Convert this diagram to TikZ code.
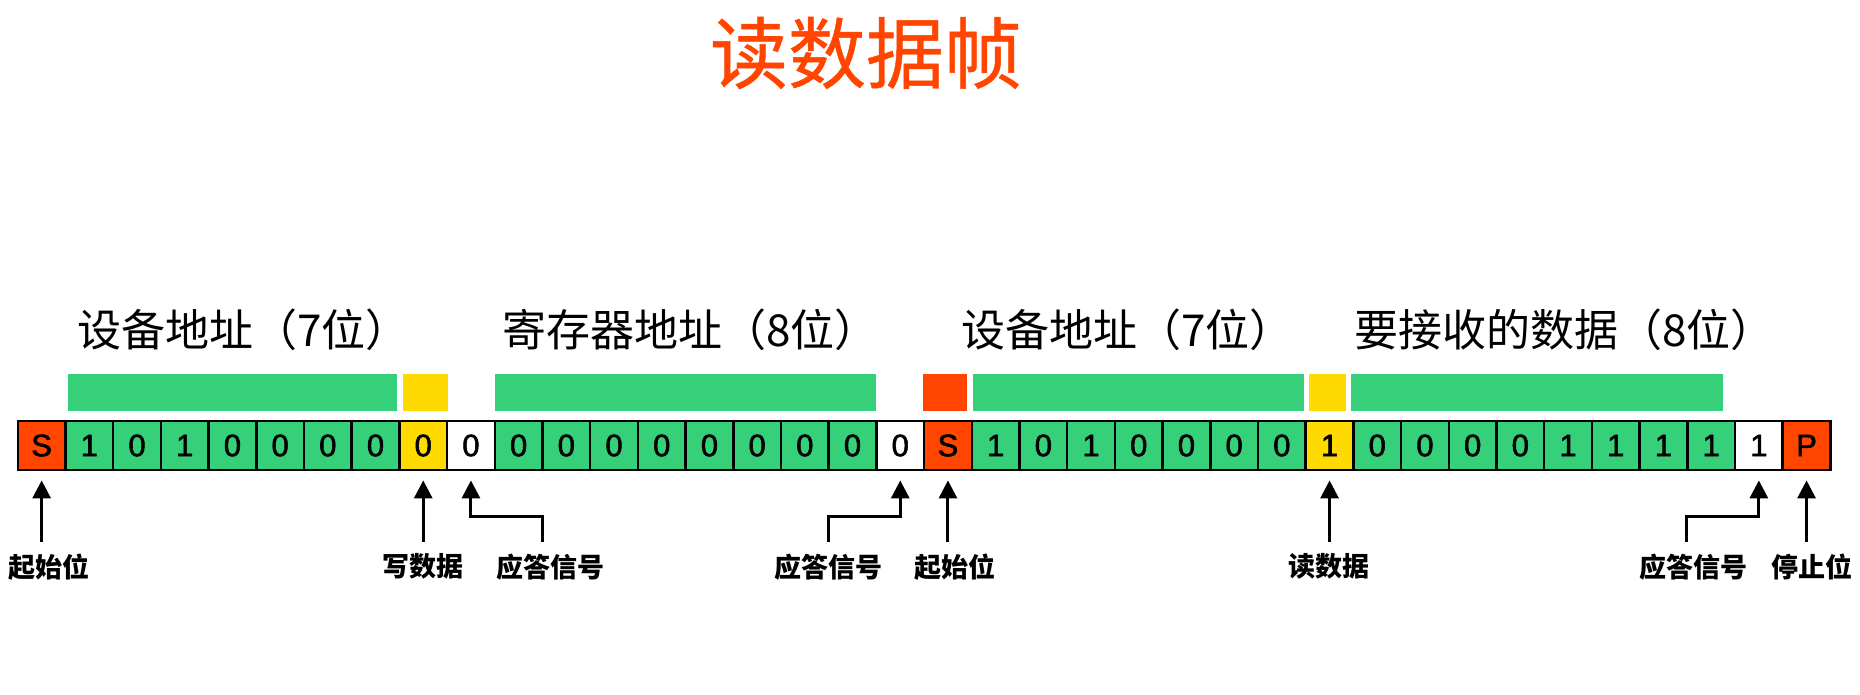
\documentclass[tikz,border=0pt]{standalone}
\usepackage{fontspec}
\setmainfont{Liberation Sans}
\newfontfamily\cjk{Noto Sans CJK SC}
\newfontfamily\cjkm[FakeBold=0.6]{Noto Sans CJK SC}
\newfontfamily\digfont[FakeBold=1.8]{Liberation Sans}
\usetikzlibrary{arrows.meta}
\definecolor{grn}{HTML}{36CF7A}
\definecolor{ylw}{HTML}{FFDA00}
\definecolor{orng}{HTML}{FF4500}
\definecolor{wht}{HTML}{FFFFFF}
\tikzset{
  cell/.style={draw=black,line width=2.5pt,minimum width=47.7pt,minimum height=49.3pt,inner sep=0pt,
    font=\digfont\fontsize{31}{32}\selectfont},
  toplbl/.style={anchor=west,inner sep=0pt,font=\cjk\fontsize{44}{46}\selectfont},
  botlbl/.style={inner sep=0pt,font=\cjk\bfseries\fontsize{27}{28}\selectfont},
  arr/.style={line width=3pt,-{Triangle[length=18pt,width=18pt]}},
}
\begin{document}
\begin{tikzpicture}[x=1pt,y=-1pt]
\useasboundingbox (0,0) rectangle (1860,694);
% title
\node[font=\cjkm\fontsize{78}{80}\selectfont,text=orng] (title) at (866,53) {读数据帧};
% group labels
\node[toplbl] (g1) at (77,330) {设备地址（7位）};
\node[toplbl] (g2) at (502,330) {寄存器地址（8位）};
\node[toplbl] (g3) at (961,330) {设备地址（7位）};
\node[toplbl] (g4) at (1354,330) {要接收的数据（8位）};
% bars
\fill[grn] (67.6,374.3) rectangle (397,410.7);
\fill[ylw] (402.5,374.3) rectangle (448,410.7);
\fill[grn] (495,374.3) rectangle (875.5,410.7);
\fill[orng] (922.7,374.3) rectangle (967,410.7);
\fill[grn] (972.6,374.3) rectangle (1304,410.7);
\fill[ylw] (1309,374.3) rectangle (1346.4,410.7);
\fill[grn] (1351,374.3) rectangle (1722.5,410.7);
% cells
\foreach \t/\c [count=\i from 0] in {S/orng,1/grn,0/grn,1/grn,0/grn,0/grn,0/grn,0/grn,0/ylw,0/wht,
  0/grn,0/grn,0/grn,0/grn,0/grn,0/grn,0/grn,0/grn,0/wht,S/orng,
  1/grn,0/grn,1/grn,0/grn,0/grn,0/grn,0/grn,1/ylw,
  0/grn,0/grn,0/grn,0/grn,1/grn,1/grn,1/grn,1/grn,1/wht,P/orng}
  \node[cell,fill=\c] (c\i) at ({17.8+(\i+0.5)*47.7},445.5) {\t};
% helper levels
\coordinate (ybot) at (0,541.7);
\coordinate (ymid) at (0,516.7);
% bottom labels
\node[botlbl] (l0) at (49.5,566.7) {起始位};
\node[botlbl] (l8) at (423,566.7) {写数据};
\node[botlbl] (l9) at (550,566.7) {应答信号};
\node[botlbl] (l18) at (828.5,566.7) {应答信号};
\node[botlbl] (l19) at (954.7,566.7) {起始位};
\node[botlbl] (l27) at (1329,566.7) {读数据};
\node[botlbl] (l36) at (1693,566.7) {应答信号};
\node[botlbl] (l37) at (1812,566.7) {停止位};
% arrow feet
\coordinate (a9) at (542.5,541.7);
\coordinate (a18) at (828.8,541.7);
\coordinate (a36) at (1686.8,541.7);
% straight arrows
\foreach \k in {0,8,19,27,37}
  \draw[arr] (c\k |- ybot) -- ([yshift=-9pt]c\k.south);
% elbow arrows
\foreach \k in {9,18,36}
  \draw[arr] (a\k) |- (c\k |- ymid) -- ([yshift=-9pt]c\k.south);
\end{tikzpicture}
\end{document}
